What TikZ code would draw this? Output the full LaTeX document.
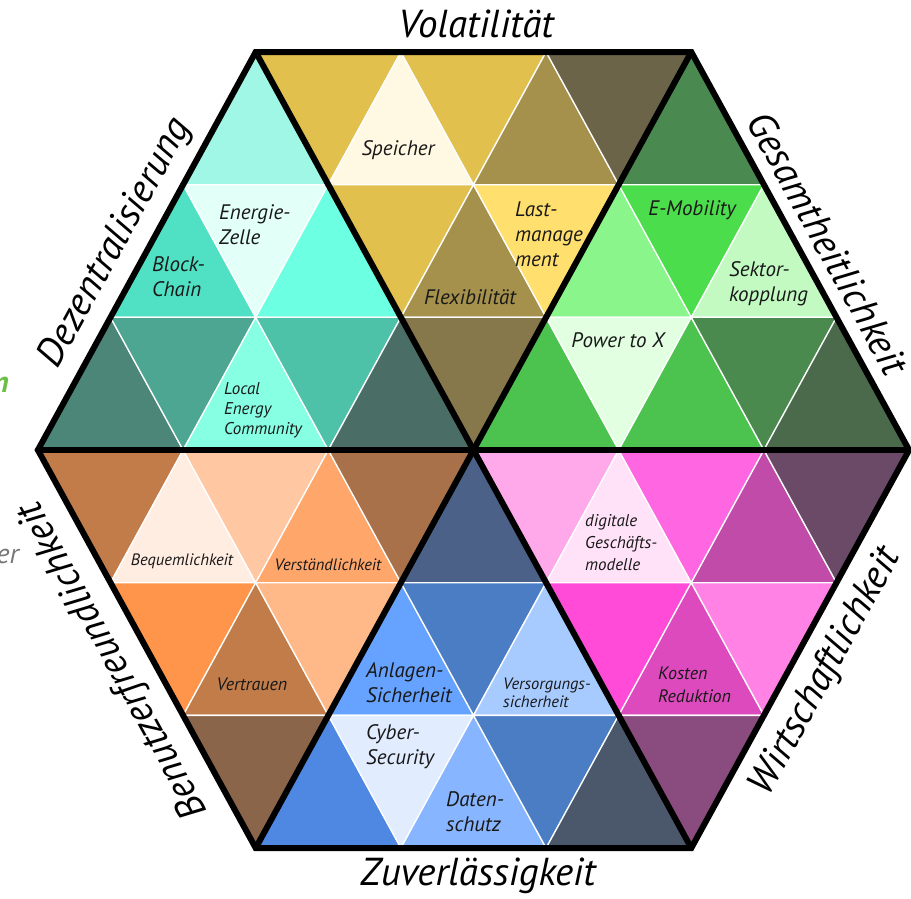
\documentclass[tikz,border=0pt]{standalone}
\usepackage{fontspec}
\setmainfont{PT Sans}
% Volatilität
\definecolor{vMust}{HTML}{E1C04E}
\definecolor{vCream}{HTML}{FFF8E2}
\definecolor{vOlive}{HTML}{A6914C}
\definecolor{vDark}{HTML}{6B6449}
\definecolor{vYel}{HTML}{FFDF6E}
\definecolor{vDk2}{HTML}{86784A}
% Dezentralisierung
\definecolor{dA}{HTML}{A0F7E6}
\definecolor{dB}{HTML}{50E0C4}
\definecolor{dC}{HTML}{E2FFF8}
\definecolor{dD}{HTML}{6CFFE2}
\definecolor{dE}{HTML}{4B8679}
\definecolor{dF}{HTML}{4DA691}
\definecolor{dG}{HTML}{86FFE3}
\definecolor{dH}{HTML}{4EC2A9}
\definecolor{dI}{HTML}{4A6D66}
% Gesamtheitlichkeit
\definecolor{gA}{HTML}{4A8A50}
\definecolor{gB}{HTML}{8AF58A}
\definecolor{gC}{HTML}{4BDD4B}
\definecolor{gD}{HTML}{C2FAC2}
\definecolor{gE}{HTML}{4CC24F}
\definecolor{gF}{HTML}{E2FFE2}
\definecolor{gG}{HTML}{4A8A4E}
\definecolor{gH}{HTML}{4A6A4B}
% Benutzerfreundlichkeit
\definecolor{bA}{HTML}{C27C4A}
\definecolor{bB}{HTML}{FFEDE2}
\definecolor{bC}{HTML}{FFC8A2}
\definecolor{bD}{HTML}{FFA66A}
\definecolor{bE}{HTML}{A8714A}
\definecolor{bF}{HTML}{FF954A}
\definecolor{bG}{HTML}{FFB888}
\definecolor{bH}{HTML}{8A654A}
% Zuverlässigkeit
\definecolor{zA}{HTML}{4B6188}
\definecolor{zB}{HTML}{66A2FF}
\definecolor{zC}{HTML}{4B7DC5}
\definecolor{zD}{HTML}{A8CBFF}
\definecolor{zE}{HTML}{4E88E2}
\definecolor{zF}{HTML}{E2ECFF}
\definecolor{zG}{HTML}{88B5FF}
\definecolor{zH}{HTML}{4B586B}
% Wirtschaftlichkeit
\definecolor{wA}{HTML}{FFA8EA}
\definecolor{wB}{HTML}{FFE2F8}
\definecolor{wC}{HTML}{FF66E2}
\definecolor{wD}{HTML}{C04BA8}
\definecolor{wE}{HTML}{6A4A66}
\definecolor{wF}{HTML}{FF4BD8}
\definecolor{wG}{HTML}{DD4ABD}
\definecolor{wH}{HTML}{FF82E4}
\definecolor{wI}{HTML}{8A4C7E}
\definecolor{fragGreen}{HTML}{6DBE45}
\definecolor{fragGrey}{HTML}{777777}

\newcommand\Px[1]{473.5+(#1)*72.6}
\newcommand\Py[1]{52+(#1)*132.67}
\newcommand\uptri[3]{\filldraw[cell,fill=#3] ({\Px{#1}},{\Py{#2}}) -- ({\Px{#1-1}},{\Py{#2+1}}) -- ({\Px{#1+1}},{\Py{#2+1}}) -- cycle;}
\newcommand\dntri[3]{\filldraw[cell,fill=#3] ({\Px{#1-1}},{\Py{#2}}) -- ({\Px{#1+1}},{\Py{#2}}) -- ({\Px{#1}},{\Py{#2+1}}) -- cycle;}

\begin{document}
\begin{tikzpicture}[x=1pt,y=-1pt,
  cell/.style={draw=white,line width=1.3pt,line join=round},
  frame/.style={draw=black,line width=6pt,line join=miter,line cap=round},
  lbl/.style={font=\fontsize{21}{25}\selectfont\itshape,inner sep=0pt,text=black!90},
  lblleft/.style={lbl,anchor=west,align=left},
  small/.style={inner sep=0pt,text=black!90,font=\fontsize{16.5}{19}\selectfont\itshape},
  smallleft/.style={small,anchor=west,align=left},
  big/.style={inner sep=0pt,text=black,font=\fontsize{39}{42}\selectfont\itshape}]
\useasboundingbox (0,0) rectangle (911,898);

% ---- Volatilität (top)
\dntri{-2}{0}{vMust}
\uptri{-1}{0}{vCream}
\dntri{0}{0}{vMust}
\uptri{1}{0}{vOlive}
\dntri{2}{0}{vDark}
\dntri{-1}{1}{vMust}
\uptri{0}{1}{vOlive}
\dntri{1}{1}{vYel}
\dntri{0}{2}{vDk2}
% ---- Dezentralisierung (top-left)
\uptri{-3}{0}{dA}
\uptri{-4}{1}{dB}
\dntri{-3}{1}{dC}
\uptri{-2}{1}{dD}
\uptri{-5}{2}{dE}
\dntri{-4}{2}{dF}
\uptri{-3}{2}{dG}
\dntri{-2}{2}{dH}
\uptri{-1}{2}{dI}
% ---- Gesamtheitlichkeit (top-right)
\uptri{3}{0}{gA}
\uptri{2}{1}{gB}
\dntri{3}{1}{gC}
\uptri{4}{1}{gD}
\uptri{1}{2}{gE}
\dntri{2}{2}{gF}
\uptri{3}{2}{gE}
\dntri{4}{2}{gG}
\uptri{5}{2}{gH}
% ---- Benutzerfreundlichkeit (bottom-left)
\dntri{-5}{3}{bA}
\uptri{-4}{3}{bB}
\dntri{-3}{3}{bC}
\uptri{-2}{3}{bD}
\dntri{-1}{3}{bE}
\dntri{-4}{4}{bF}
\uptri{-3}{4}{bA}
\dntri{-2}{4}{bG}
\dntri{-3}{5}{bH}
% ---- Zuverlässigkeit (bottom)
\uptri{0}{3}{zA}
\uptri{-1}{4}{zB}
\dntri{0}{4}{zC}
\uptri{1}{4}{zD}
\uptri{-2}{5}{zE}
\dntri{-1}{5}{zF}
\uptri{0}{5}{zG}
\dntri{1}{5}{zC}
\uptri{2}{5}{zH}
% ---- Wirtschaftlichkeit (bottom-right)
\dntri{1}{3}{wA}
\uptri{2}{3}{wB}
\dntri{3}{3}{wC}
\uptri{4}{3}{wD}
\dntri{5}{3}{wE}
\dntri{2}{4}{wF}
\uptri{3}{4}{wG}
\dntri{4}{4}{wH}
\dntri{3}{5}{wI}

% ---- black frame
\coordinate (TL) at ({\Px{-3}},{\Py{0}});
\coordinate (TR) at ({\Px{3}},{\Py{0}});
\coordinate (R)  at ({\Px{6}},{\Py{3}});
\coordinate (BR) at ({\Px{3}},{\Py{6}});
\coordinate (BL) at ({\Px{-3}},{\Py{6}});
\coordinate (L)  at ({\Px{-6}},{\Py{3}});
\draw[frame] (TL) -- (TR) -- (R) -- (BR) -- (BL) -- (L) -- cycle;
\draw[frame] (TL) -- (BR);
\draw[frame] (TR) -- (BL);
\draw[frame] (L) -- (R);

% ---- inner labels
\node[lbl] (speicher) at (398,150) {Speicher};
\node[lblleft] (zelle) at (219,225) {Energie-\\Zelle};
\node[lblleft] (block) at (152,277) {Block-\\Chain};
\node[smallleft,font=\fontsize{17}{20}\selectfont\itshape] (lec) at (224,410) {Local\\Energy\\Community};
\node[lblleft] (last) at (515,234) {Last-\\manage\\ment};
\node[lbl] (flex) at (470,297) {Flexibilität};
\node[lbl] (emob) at (692,210) {E-Mobility};
\node[lblleft] (sektor) at (729,284) {Sektor-\\kopplung};
\node[lbl] (ptx) at (618,340) {Power to X};
\node[small] (bequem) at (182,561) {Bequemlichkeit};
\node[small] (verst) at (328,565) {Verständlichkeit};
\node[small,font=\fontsize{18}{20}\selectfont\itshape] (vertr) at (252,684) {Vertrauen};
\node[lblleft] (anlagen) at (366,683) {Anlagen-\\Sicherheit};
\node[lblleft] (cyber) at (366,747) {Cyber-\\Security};
\node[lblleft] (daten) at (446,812) {Daten-\\schutz};
\node[smallleft,font=\fontsize{16.5}{18}\selectfont\itshape] (versorg) at (503,693) {Versorgungs-\\sicherheit};
\node[smallleft,font=\fontsize{17}{22}\selectfont\itshape] (digital) at (585,543) {digitale\\Geschäfts-\\modelle};
\node[smallleft,font=\fontsize{18}{23}\selectfont\itshape] (kosten) at (658,685) {Kosten\\Reduktion};

% ---- outer labels
\node[big] (vol) at (476,24) {Volatilität};
\node[big] (zuv) at (478,876) {Zuverlässigkeit};
\node[big,rotate=61.3] (dez) at (116,243) {Dezentralisierung};
\node[big,rotate=-61.3] (ges) at (828,243) {Gesamtheitlichkeit};
\node[big,rotate=118.7] (ben) at (114,660) {Benutzerfreundlichkeit};
\node[big,rotate=61.3] (wir) at (826,672) {Wirtschaftlichkeit};

% ---- cut-off fragments at the left edge
\node[inner sep=0pt,anchor=east,text=fragGreen,font=\fontsize{30}{30}\selectfont\itshape\bfseries] (fragn) at (9,385) {n};
\node[inner sep=0pt,anchor=east,text=fragGrey,font=\fontsize{28}{28}\selectfont\itshape] (frager) at (19,556) {er};
\end{tikzpicture}
\end{document}
